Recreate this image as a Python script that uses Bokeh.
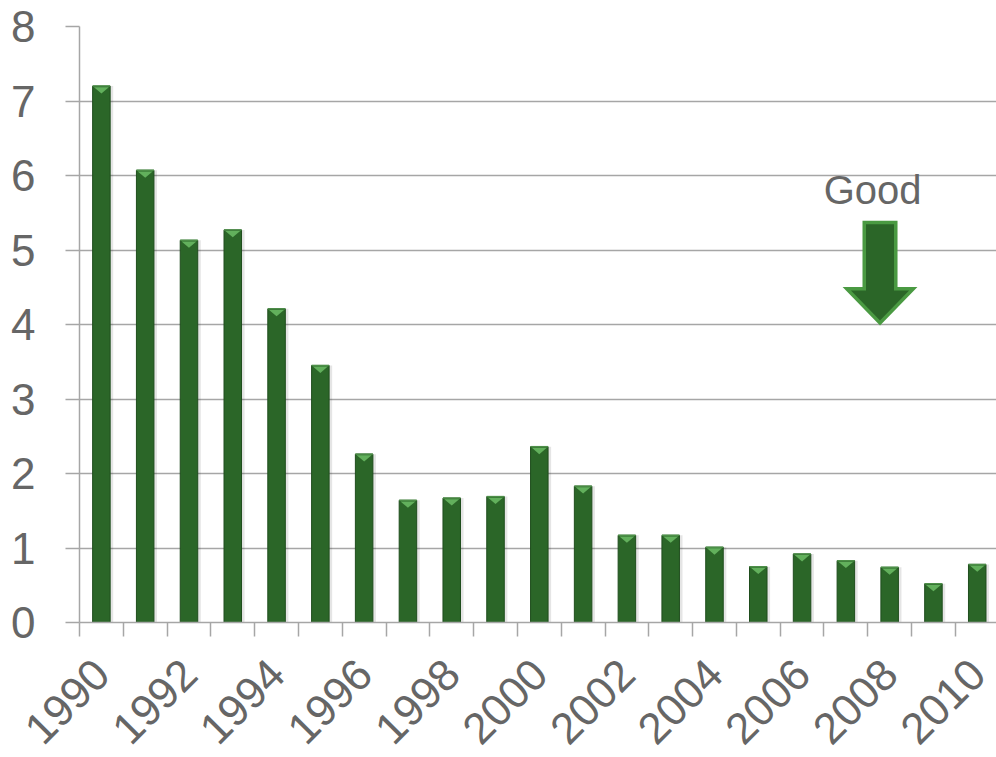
import math
from bokeh.plotting import figure
from bokeh.models import Range1d, FixedTicker, ColumnDataSource
from bokeh.core.properties import value
from bokeh.embed import file_html
from bokeh.resources import INLINE

years = list(range(1990, 2011))
values = [7.20, 6.07, 5.13, 5.27, 4.21, 3.45, 2.26, 1.64, 1.67, 1.69, 2.36,
          1.83, 1.17, 1.17, 1.01, 0.75, 0.92, 0.83, 0.74, 0.52, 0.78]
label_years = list(range(1990, 2011, 2))
y_ticks = list(range(0, 9))

GRID = "#a6a6a6"
TEXT = "#666666"
BAR = "#2b6628"
BAR_EDGE = "#1f4d1d"
BEVEL = "#62b05c"

p = figure(frame_width=917, frame_height=596, output_backend="svg", toolbar_location=None,
           x_range=Range1d(1989.5, 2010.44), y_range=Range1d(0, 8),
           min_border_left=79, min_border_top=26, min_border_right=0,
           min_border_bottom=135)
p.outline_line_color = None
p.background_fill_color = "white"

# shadow
p.vbar(x=[y + 0.06 for y in years], top=values, bottom=[-0.03] * len(values), width=0.42,
       fill_color="#000000", fill_alpha=0.10, line_color=None)
src = ColumnDataSource(dict(x=years, top=values))
p.vbar(x="x", top="top", width=0.4, source=src, fill_color=BAR,
       line_color=BAR_EDGE, line_width=1)
# bevel triangles on top of each bar
bw = 0.4
xs = [[x - bw / 2 + 0.03, x + bw / 2 - 0.03, x] for x in years]
ys = [[v - 0.015, v - 0.015, v - 0.10] for v in values]
p.patches(xs=xs, ys=ys, fill_color=BEVEL, line_color=None)
p.segment(x0=[x - bw / 2 for x in years], x1=[x + bw / 2 for x in years],
          y0=values, y1=values, line_color="#4d8f48", line_width=1.5)

# Axes
xa = p.xaxis[0]
xa.ticker = FixedTicker(ticks=label_years, minor_ticks=[1989.5 + i for i in range(22)])
xa.major_tick_line_color = None
xa.major_tick_out = 0
xa.major_tick_in = 0
xa.minor_tick_line_color = GRID
xa.minor_tick_line_width = 1.5
xa.minor_tick_out = 14
xa.minor_tick_in = 0
xa.axis_line_color = GRID
xa.axis_line_width = 1.5
xa.major_label_orientation = math.pi / 4
xa.major_label_text_font_size = "44px"
xa.major_label_text_font = "Liberation Sans"
xa.major_label_text_color = TEXT
xa.major_label_standoff = 30

ya = p.yaxis[0]
ya.ticker = FixedTicker(ticks=y_ticks)
ya.minor_tick_line_color = None
ya.major_tick_out = 14
ya.major_tick_in = 0
ya.major_tick_line_color = GRID
ya.major_tick_line_width = 1.5
ya.axis_line_color = GRID
ya.axis_line_width = 1.5
ya.major_label_text_font_size = "44px"
ya.major_label_text_font = "Liberation Sans"
ya.major_label_text_color = TEXT
ya.major_label_standoff = 30

p.xgrid.grid_line_color = None
p.ygrid.grid_line_color = GRID
p.ygrid.grid_line_width = 1.5

# "Good" annotation with downward block arrow
ax = 2007.78
shaft_hw = 0.36
head_hw = 0.76
top_y = 5.37
base_y = 4.48
tip_y = 4.02
p.patch(x=[ax - shaft_hw, ax + shaft_hw, ax + shaft_hw, ax + head_hw, ax, ax - head_hw, ax - shaft_hw],
        y=[top_y, top_y, base_y, base_y, tip_y, base_y, base_y],
        fill_color=BAR, line_color="#4a9a42", line_width=3.5, line_join="miter")
p.text(x=[ax - 0.17], y=[5.8], text=["Good"], text_font=value("Liberation Sans"),
       text_font_size="40px", text_color=TEXT, text_align="center", text_baseline="middle")

open("out.html", "w").write(file_html(p, INLINE))
